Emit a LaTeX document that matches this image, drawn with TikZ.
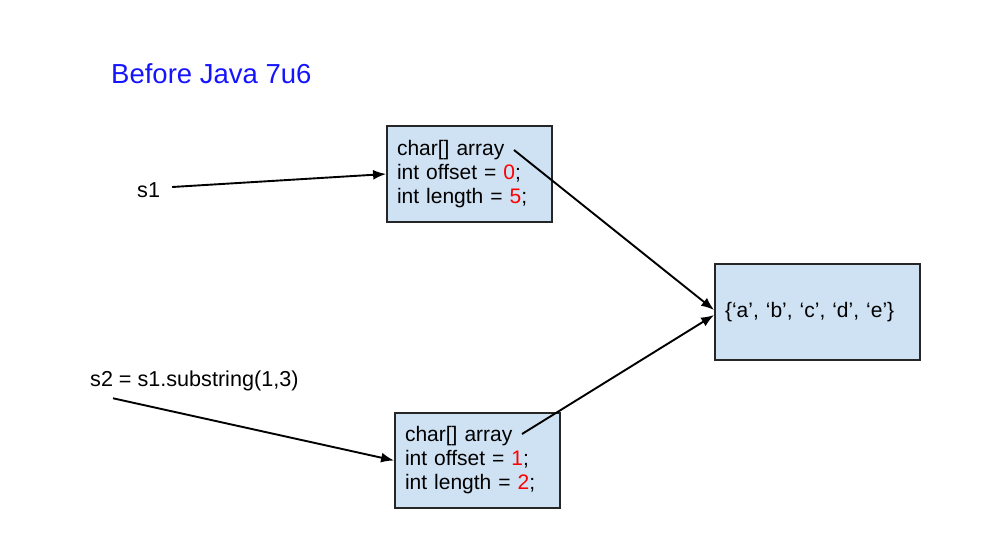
\documentclass[tikz,border=0pt]{standalone}
\usepackage{fontspec}
\setmainfont{Liberation Sans}
\usetikzlibrary{arrows.meta}
\definecolor{boxblue}{RGB}{207,226,243}
\definecolor{titleblue}{RGB}{20,20,255}
\begin{document}
\begin{tikzpicture}[x=1pt, y=-1pt,
    membox/.style={draw=black!85, line width=1.8pt, fill=boxblue, inner xsep=10pt,
      align=left, font=\fontsize{21}{24}\selectfont},
    label/.style={inner sep=0pt, anchor=west, font=\fontsize{21.6}{24}\selectfont},
    ptr/.style={-{Latex[length=13pt,width=10pt]}, line width=1.9pt}]

  \useasboundingbox (0,0) rectangle (1005,533);

  % Title
  \node (title) at (111,74) [inner sep=0pt, anchor=west, text=titleblue, font=\fontsize{27.5}{30}\selectfont] {Before Java 7u6};

  % String objects
  \node (b1) at (469.5,174) [membox, text width=145pt, minimum height=96pt] {char[] array\\int offset = {\color{red}0};\\int length = {\color{red}5};};
  \node (b2) at (477.5,460.5) [membox, text width=145pt, minimum height=95pt] {char[] array\\int offset = {\color{red}1};\\int length = {\color{red}2};};

  % Shared char array
  \node (chars) at (817.5,312) [membox, text width=185pt, minimum height=96pt] {\{‘a’, ‘b’, ‘c’, ‘d’, ‘e’\}};

  % References
  \node (s1) at (137,190) [label] {s1};
  \node (s2) at (90,381) [label] {s2 = s1.substring(1,3)};

  \coordinate (arr1) at (514,150);
  \coordinate (arr2) at (522,434);

  \draw[ptr] ([xshift=12pt,yshift=3pt]s1.east) -- (b1.west);
  \draw[ptr] ([xshift=23pt,yshift=-7pt]s2.south west) -- (b2.west);
  \draw[ptr] (arr1) -- ([yshift=2pt]chars.west);
  \draw[ptr] (arr2) -- ([yshift=-3pt]chars.west);

\end{tikzpicture}
\end{document}
